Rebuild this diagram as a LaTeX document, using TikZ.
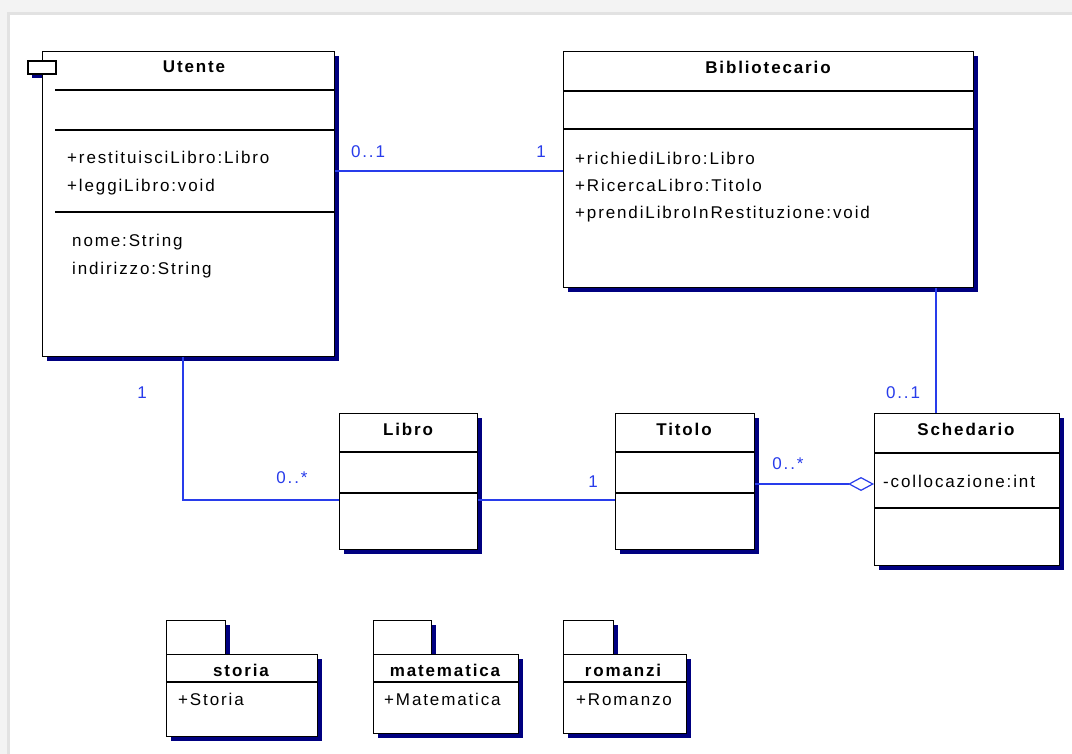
\documentclass[tikz,border=0pt]{standalone}
\usepackage{fontspec}
\setmainfont{Liberation Sans}[LetterSpace=11]
\usetikzlibrary{arrows.meta,shadows}

\definecolor{assocblue}{RGB}{40,60,235}
\definecolor{shadownavy}{RGB}{0,0,128}
\definecolor{framegray}{RGB}{243,243,243}
\definecolor{frameedge}{RGB}{226,226,226}

\newcommand{\umlfont}{\fontsize{17}{20}\selectfont}

\tikzset{
  boxshadow/.style={drop shadow={shadow xshift=4pt, shadow yshift=-4pt,
      fill=shadownavy, opacity=1}},
  cls/.style={draw=black, line width=1.2pt, fill=white, anchor=north west,
      inner sep=0pt, boxshadow},
  sep/.style={draw=black, line width=1.2pt},
  ttl/.style={font=\umlfont\bfseries, inner sep=0pt},
  mem/.style={anchor=west, inner sep=0pt, text height=12pt, text depth=3pt},
  assoc/.style={draw=assocblue, line width=1.3pt},
  mult/.style={text=assocblue, inner sep=0pt},
}

\begin{document}
\begin{tikzpicture}[x=1pt, y=-1pt, font=\umlfont]
\useasboundingbox (0,0) rectangle (1072,754);

% window frame
\fill[framegray] (0,0) rectangle (1072,754);
\fill[frameedge] (7,12) rectangle (1072,754);
\fill[white] (10,15) rectangle (1072,754);

% ---------- Utente ----------
\fill[shadownavy] (32,65) rectangle (60,78);
\node[cls, minimum width=292pt, minimum height=305pt] (utente) at (42,51) {};
\draw[black, line width=1.2pt, fill=white] (28,61) rectangle (56,74);
\node[ttl] (utenteT) at (194,67) {Utente};
\draw[sep] (55,90) -- (334,90);
\draw[sep] (55,130) -- (334,130);
\draw[sep] (55,212) -- (334,212);
\node[mem] (u1) at (67,159) {+restituisciLibro:Libro};
\node[mem] (u2) at (67,187) {+leggiLibro:void};
\node[mem] (u3) at (72,242) {nome:String};
\node[mem] (u4) at (72,270) {indirizzo:String};

% ---------- Bibliotecario ----------
\node[cls, minimum width=410pt, minimum height=236pt] (biblio) at (563,51) {};
\node[ttl] (biblioT) at (768,67) {Bibliotecario};
\draw[sep] (563,91) -- (973,91);
\draw[sep] (563,129) -- (973,129);
\node[mem] (b1) at (575,160) {+richiediLibro:Libro};
\node[mem] (b2) at (575,187) {+RicercaLibro:Titolo};
\node[mem] (b3) at (575,214) {+prendiLibroInRestituzione:void};

% ---------- Libro ----------
\node[cls, minimum width=138pt, minimum height=136pt] (libro) at (339,413) {};
\node[ttl] (libroT) at (408,429) {Libro};
\draw[sep] (339,452) -- (477,452);
\draw[sep] (339,493) -- (477,493);

% ---------- Titolo ----------
\node[cls, minimum width=139pt, minimum height=136pt] (titolo) at (615,413) {};
\node[ttl] (titoloT) at (684,429) {Titolo};
\draw[sep] (615,452) -- (754,452);
\draw[sep] (615,493) -- (754,493);

% ---------- Schedario ----------
\node[cls, minimum width=185pt, minimum height=152pt] (sched) at (874,413) {};
\node[ttl] (schedT) at (966,429) {Schedario};
\draw[sep] (874,453) -- (1059,453);
\draw[sep] (874,508) -- (1059,508);
\node[mem] (s1) at (883,483) {-collocazione:int};

% ---------- associations ----------
\coordinate (rowUB) at (0,171);
\coordinate (colBS) at (936,0);
\coordinate (colUL) at (183,0);
\coordinate (rowLT) at (0,500);
\coordinate (rowTS) at (0,484);

\draw[assoc] (utente.east |- rowUB) -- (biblio.west |- rowUB);
\draw[assoc] (biblio.south -| colBS) -- (sched.north -| colBS);
\draw[assoc] (utente.south -| colUL) |- (libro.west |- rowLT);
\draw[assoc] (libro.east |- rowLT) -- (titolo.west |- rowLT);
\draw[assoc, -{Diamond[open, length=26pt, width=14pt, line width=1.2pt]}]
  (titolo.east |- rowTS) -- (sched.west |- rowTS);

\node[mult] (m1) at (368,152) {0..1};
\node[mult] (m2) at (541,152) {1};
\node[mult] (m3) at (903,393) {0..1};
\node[mult] (m4) at (142,393) {1};
\node[mult] (m5) at (292,478) {0..*};
\node[mult] (m6) at (593,482) {1};
\node[mult] (m7) at (788,464) {0..*};

% ---------- packages ----------
\node[cls, minimum width=59pt, minimum height=34pt] (storiaTab) at (166,620) {};
\node[cls, minimum width=151pt, minimum height=82pt] (storia) at (166,654) {};
\node[ttl] (storiaT) at (241,670) {storia};
\draw[sep] (166,682) -- (317,682);
\node[mem] (p1) at (178,701) {+Storia};

\node[cls, minimum width=58pt, minimum height=34pt] (mateTab) at (373,620) {};
\node[cls, minimum width=145pt, minimum height=79pt] (mate) at (373,654) {};
\node[ttl] (mateT) at (445,670) {matematica};
\draw[sep] (373,682) -- (518,682);
\node[mem] (p2) at (384,701) {+Matematica};

\node[cls, minimum width=50pt, minimum height=34pt] (romTab) at (563,620) {};
\node[cls, minimum width=123pt, minimum height=79pt] (rom) at (563,654) {};
\node[ttl] (romT) at (623,670) {romanzi};
\draw[sep] (563,682) -- (686,682);
\node[mem] (p3) at (576,701) {+Romanzo};

\end{tikzpicture}
\end{document}
